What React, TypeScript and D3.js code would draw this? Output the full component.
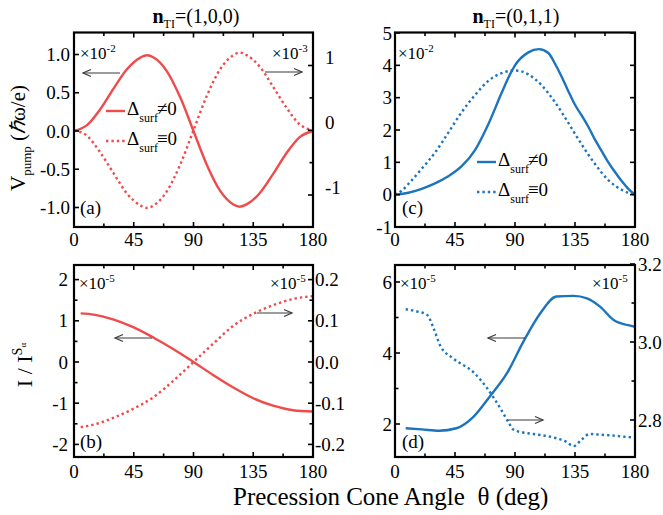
import React from 'react';
import * as d3 from 'd3';

const RED = '#f04a4a';
const BLUE = '#1b74bd';
const FONT = "'Liberation Serif','Times New Roman',Times,serif";

// ---------- data ----------
const xMinorTicks = [0, 22.5, 45, 67.5, 90, 112.5, 135, 157.5, 180];
const xMajorTicks = [0, 45, 90, 135, 180];

// panel (a): n_TI = (1,0,0), V_pump
const thetaA = [0, 10, 20, 30, 40, 50, 55, 60, 70, 80, 90, 100, 110, 120, 125, 130, 140, 150, 160, 170, 180];
const vPumpA_surf = [0, 0.08, 0.29, 0.56, 0.81, 0.96, 0.99, 0.96, 0.78, 0.44, 0, -0.44, -0.78, -0.96, -0.99, -0.96, -0.81, -0.56, -0.29, -0.08, 0]; // x1e-2
const vPumpA_bulk = [0, -0.09, -0.35, -0.67, -0.98, -1.16, -1.2, -1.16, -0.94, -0.53, 0, 0.53, 0.94, 1.16, 1.2, 1.16, 0.98, 0.67, 0.35, 0.09, 0]; // x1e-3
const aLeftTicks = [-1, -0.5, 0, 0.5, 1];
const aLeftLabels = ['-1.0', '-0.5', '0.0', '0.5', '1.0'];
const aRightTicks = [-1, -0.5, 0, 0.5, 1];
const aRightLabeled = [-1, 0, 1];
const aRightLabels = ['-1', '0', '1'];

// panel (c): n_TI = (0,1,1), V_pump
const thetaC_surf = [0, 10, 20, 30, 40, 50, 60, 70, 80, 86, 90, 100, 108, 115, 120, 125, 130, 135, 140, 145, 150, 155, 160, 165, 170, 175, 180];
const vPumpC_surf = [0, 0.06, 0.18, 0.35, 0.57, 0.88, 1.38, 2.18, 3.15, 3.7, 4.0, 4.4, 4.5, 4.38, 4.05, 3.65, 3.2, 2.78, 2.45, 2.1, 1.7, 1.35, 1.0, 0.7, 0.42, 0.18, 0]; // x1e-2
const thetaC_bulk = [0, 5, 10, 20, 30, 40, 50, 60, 70, 80, 90, 100, 110, 120, 130, 140, 150, 160, 170, 180];
const vPumpC_bulk = [0, 0.12, 0.33, 0.8, 1.3, 1.92, 2.55, 3.08, 3.52, 3.76, 3.84, 3.72, 3.38, 2.86, 2.22, 1.55, 0.95, 0.45, 0.15, 0]; // x1e-2
const cLeftTicks = [-1, 0, 1, 2, 3, 4, 5];
const cLeftLabels = ['-1', '0', '1', '2', '3', '4', '5'];

// panel (b): n_TI = (1,0,0), I / I^S
const thetaB = [5, 15, 30, 45, 60, 75, 90, 105, 120, 135, 150, 165, 180];
const iB_surf = [1.18, 1.15, 1.03, 0.84, 0.59, 0.31, 0, -0.32, -0.62, -0.88, -1.06, -1.17, -1.2]; // x1e-5
const iB_bulk = [-0.158, -0.152, -0.135, -0.113, -0.085, -0.045, 0, 0.045, 0.088, 0.117, 0.138, 0.153, 0.16]; // x1e-5
const bLeftTicks = [-2, -1.5, -1, -0.5, 0, 0.5, 1, 1.5, 2];
const bLeftLabeled = [-2, -1, 0, 1, 2];
const bLeftLabels = ['-2', '-1', '0', '1', '2'];
const bRightTicks = [-0.2, -0.15, -0.1, -0.05, 0, 0.05, 0.1, 0.15, 0.2];
const bRightLabeled = [-0.2, -0.1, 0, 0.1, 0.2];
const bRightLabels = ['-0.2', '-0.1', '0.0', '0.1', '0.2'];

// panel (d): n_TI = (0,1,1), I / I^S
const thetaD_surf = [8, 20, 33, 46, 59, 71, 84, 96, 109, 121, 134, 144, 154, 164, 174, 180];
const iD_surf = [1.88, 1.85, 1.81, 1.88, 2.21, 2.77, 3.43, 4.3, 5.12, 5.59, 5.61, 5.54, 5.3, 4.93, 4.79, 4.74]; // x1e-5
const thetaD_bulk = [8, 17, 24, 29, 34, 44, 59, 69, 79, 85, 89, 96, 104, 119, 128, 134, 140, 146, 155, 164, 172, 180];
const iD_bulk = [3.084, 3.078, 3.07, 3.035, 2.99, 2.957, 2.922, 2.882, 2.83, 2.795, 2.775, 2.768, 2.764, 2.755, 2.745, 2.733, 2.75, 2.764, 2.762, 2.76, 2.757, 2.755]; // x1e-5
const dLeftTicks = [2, 3, 4, 5, 6];
const dLeftLabeled = [2, 4, 6];
const dLeftLabels = ['2', '4', '6'];
const dRightTicks = [2.8, 2.9, 3.0, 3.1, 3.2];
const dRightLabeled = [2.8, 3.0, 3.2];
const dRightLabels = ['2.8', '3.0', '3.2'];

// ---------- geometry ----------
const XL = [74, 313];
const XR = [395, 635];
const YT = [32.5, 227];
const YB = [265, 457];

const xLeft = d3.scaleLinear().domain([0, 180]).range(XL);
const xRight = d3.scaleLinear().domain([0, 180]).range(XR);

const yA_L = d3.scaleLinear().domain([-1, 1]).range([207.5, 54.5]);
const yA_R = d3.scaleLinear().domain([-1, 1]).range([195, 65.5]);
const yC = d3.scaleLinear().domain([-1, 5]).range([227, 33]);
const yB_L = d3.scaleLinear().domain([-2, 2]).range([444.4, 279.6]);
const yB_R = d3.scaleLinear().domain([-0.2, 0.2]).range([444.4, 279.6]);
const yD_L = d3.scaleLinear().domain([2, 6]).range([424, 282]);
const yD_R = d3.scaleLinear().domain([2.8, 3.0]).range([420, 342]);

function linePath(xs: number[], ys: number[], x: any, y: any) {
  const g = d3.line<number>()
    .x((_, i) => x(xs[i]))
    .y((_, i) => y(ys[i]))
    .curve(d3.curveMonotoneX);
  return g(xs) || '';
}

function Curve({ xs, ys, x, y, color, dotted }: any) {
  return (
    <path
      d={linePath(xs, ys, x, y)}
      fill="none"
      stroke={color}
      strokeWidth={2.4}
      strokeDasharray={dotted ? '2.4 3.0' : undefined}
    />
  );
}

function Frame({ x, xr, yr, yl, leftTicks, leftLabeled, leftLabels, leftLabelX,
  yrScale, rightTicks, rightLabeled, rightLabels, rightLabelX, rightDy, xLabelY }: any) {
  const [x0, x1] = xr;
  const [y0, y1] = yr;
  const els: any[] = [];
  xMinorTicks.forEach((t, i) => {
    const len = xMajorTicks.includes(t) ? 5 : 3.5;
    const px = x(t);
    els.push(<line key={'xb' + i} x1={px} x2={px} y1={y1} y2={y1 - len} stroke="#000" strokeWidth={1.6} />);
    els.push(<line key={'xt' + i} x1={px} x2={px} y1={y0} y2={y0 + len} stroke="#000" strokeWidth={1.6} />);
  });
  xMajorTicks.forEach((t, i) => {
    els.push(
      <text key={'xl' + i} x={x(t)} y={xLabelY} textAnchor="middle" fontSize={19} fontFamily={FONT}>{String(t)}</text>
    );
  });
  leftTicks.forEach((t: number, i: number) => {
    const py = yl(t);
    const len = leftLabeled.includes(t) ? 5 : 3.5;
    els.push(<line key={'yl' + i} x1={x0} x2={x0 + len} y1={py} y2={py} stroke="#000" strokeWidth={1.6} />);
    if (!yrScale) {
      els.push(<line key={'yrr' + i} x1={x1} x2={x1 - len} y1={py} y2={py} stroke="#000" strokeWidth={1.6} />);
    }
  });
  leftLabeled.forEach((t: number, i: number) => {
    els.push(
      <text key={'yll' + i} x={leftLabelX} y={yl(t)} dy="0.35em" textAnchor="end" fontSize={19} fontFamily={FONT}>{leftLabels[i]}</text>
    );
  });
  if (yrScale) {
    rightTicks.forEach((t: number, i: number) => {
      const py = yrScale(t);
      const len = rightLabeled.some((v: number) => Math.abs(v - t) < 1e-9) ? 5 : 3.5;
      els.push(<line key={'yr' + i} x1={x1} x2={x1 - len} y1={py} y2={py} stroke="#000" strokeWidth={1.6} />);
    });
    rightLabeled.forEach((t: number, i: number) => {
      els.push(
        <text key={'yrl' + i} x={rightLabelX} y={yrScale(t) + (rightDy || 0)} dy="0.35em" textAnchor="start" fontSize={19} fontFamily={FONT}>{rightLabels[i]}</text>
      );
    });
  }
  els.push(<rect key="frame" x={x0} y={y0} width={x1 - x0} height={y1 - y0} fill="none" stroke="#000" strokeWidth={2.2} />);
  return <g>{els}</g>;
}

function Arrow({ x1, x2, y }: any) {
  const dir = x2 > x1 ? -1 : 1;
  return (
    <g stroke="#3a3a3a" strokeWidth={1.2} fill="none">
      <line x1={x1} x2={x2} y1={y} y2={y} />
      <path d={`M${x2 + dir * 8},${y - 3.5} L${x2},${y} L${x2 + dir * 8},${y + 3.5}`} />
    </g>
  );
}

function Times({ x, y, exp }: any) {
  return (
    <text x={x} y={y} fontSize={17} fontFamily={FONT}>
      ×10<tspan fontSize={11} dy={-7}>{exp}</tspan>
    </text>
  );
}

function LegendEntry({ x, y, color, dotted, sym }: any) {
  return (
    <g>
      <line x1={x} x2={x + 19} y1={y} y2={y} stroke={color} strokeWidth={2.4} strokeDasharray={dotted ? '2.4 3.0' : undefined} />
      <text x={x + 21} y={y + 4} fontSize={19} fontFamily={FONT}>
        Δ<tspan fontSize={12} dy={7}>surf</tspan><tspan dy={-7} dx={-1}>{sym}</tspan>
      </text>
    </g>
  );
}

function Title({ cx, text }: any) {
  return (
    <text x={cx} y={23} textAnchor="middle" fontSize={20} fontFamily={FONT}>
      <tspan fontWeight="bold">n</tspan><tspan fontSize={12} dy={5}>TI</tspan><tspan dy={-5}>{text}</tspan>
    </text>
  );
}

export default function App() {
  return (
    <svg width={663} height={515} style={{ position: 'absolute', left: 0, top: 0, background: '#fff' }}>
      <rect x={0} y={0} width={663} height={515} fill="#fff" />
      <Title cx={196} text="=(1,0,0)" />
      <Title cx={516} text="=(0,1,1)" />

      {/* panel (a) */}
      <Curve xs={thetaA} ys={vPumpA_bulk} x={xLeft} y={yA_R} color={RED} dotted />
      <Curve xs={thetaA} ys={vPumpA_surf} x={xLeft} y={yA_L} color={RED} />
      <Frame x={xLeft} xr={XL} yr={YT} yl={yA_L} leftTicks={aLeftTicks} leftLabeled={aLeftTicks} leftLabels={aLeftLabels} leftLabelX={70}
        yrScale={yA_R} rightTicks={aRightTicks} rightLabeled={aRightLabeled} rightLabels={aRightLabels} rightLabelX={325} rightDy={-8} xLabelY={246} />
      <Times x={80} y={59} exp="-2" />
      <Times x={272} y={59} exp="-3" />
      <Arrow x1={120} x2={83} y={73} />
      <Arrow x1={265} x2={302} y={72} />
      <LegendEntry x={106} y={111} color={RED} sym="≠0" />
      <LegendEntry x={106} y={141} color={RED} dotted sym="≡0" />
      <text x={80} y={214} fontSize={19} fontFamily={FONT}>(a)</text>

      {/* panel (c) */}
      <Curve xs={thetaC_bulk} ys={vPumpC_bulk} x={xRight} y={yC} color={BLUE} dotted />
      <Curve xs={thetaC_surf} ys={vPumpC_surf} x={xRight} y={yC} color={BLUE} />
      <Frame x={xRight} xr={XR} yr={YT} yl={yC} leftTicks={cLeftTicks} leftLabeled={cLeftTicks} leftLabels={cLeftLabels} leftLabelX={392} xLabelY={246} />
      <Times x={398} y={59} exp="-2" />
      <LegendEntry x={477} y={162} color={BLUE} sym="≠0" />
      <LegendEntry x={477} y={192} color={BLUE} dotted sym="≡0" />
      <text x={402} y={214} fontSize={19} fontFamily={FONT}>(c)</text>

      {/* panel (b) */}
      <Curve xs={thetaB} ys={iB_bulk} x={xLeft} y={yB_R} color={RED} dotted />
      <Curve xs={thetaB} ys={iB_surf} x={xLeft} y={yB_L} color={RED} />
      <Frame x={xLeft} xr={XL} yr={YB} yl={yB_L} leftTicks={bLeftTicks} leftLabeled={bLeftLabeled} leftLabels={bLeftLabels} leftLabelX={68}
        yrScale={yB_R} rightTicks={bRightTicks} rightLabeled={bRightLabeled} rightLabels={bRightLabels} rightLabelX={315} xLabelY={478} />
      <Times x={79} y={289} exp="-5" />
      <Times x={270} y={289} exp="-5" />
      <Arrow x1={152} x2={115} y={338} />
      <Arrow x1={257} x2={292} y={313} />
      <text x={80} y={448} fontSize={19} fontFamily={FONT}>(b)</text>

      {/* panel (d) */}
      <Curve xs={thetaD_bulk} ys={iD_bulk} x={xRight} y={yD_R} color={BLUE} dotted />
      <Curve xs={thetaD_surf} ys={iD_surf} x={xRight} y={yD_L} color={BLUE} />
      <Frame x={xRight} xr={XR} yr={YB} yl={yD_L} leftTicks={dLeftTicks} leftLabeled={dLeftLabeled} leftLabels={dLeftLabels} leftLabelX={392}
        yrScale={yD_R} rightTicks={dRightTicks} rightLabeled={dRightLabeled} rightLabels={dRightLabels} rightLabelX={638} xLabelY={478} />
      <Times x={400} y={289} exp="-5" />
      <Times x={592} y={289} exp="-5" />
      <Arrow x1={525} x2={488} y={338} />
      <Arrow x1={508} x2={543} y={420} />
      <text x={402} y={448} fontSize={19} fontFamily={FONT}>(d)</text>

      {/* axis titles */}
      <text transform="translate(25,138) rotate(-90)" textAnchor="middle" fontSize={21} fontFamily={FONT}>
        V<tspan fontSize={13} dy={6}>pump</tspan><tspan dy={-6}> (</tspan><tspan fontStyle="italic">ℏ</tspan>ω/e)
      </text>
      <text transform="translate(32,365) rotate(-90)" textAnchor="middle" fontSize={22} fontFamily={FONT}>
        I / I<tspan fontSize={14} dy={-10}>S</tspan><tspan fontSize={9} dy={4}>α</tspan>
      </text>
      <text x={233} y={505} fontSize={25} fontFamily={FONT} xmlSpace="preserve">Precession Cone Angle  θ (deg)</text>
    </svg>
  );
}
